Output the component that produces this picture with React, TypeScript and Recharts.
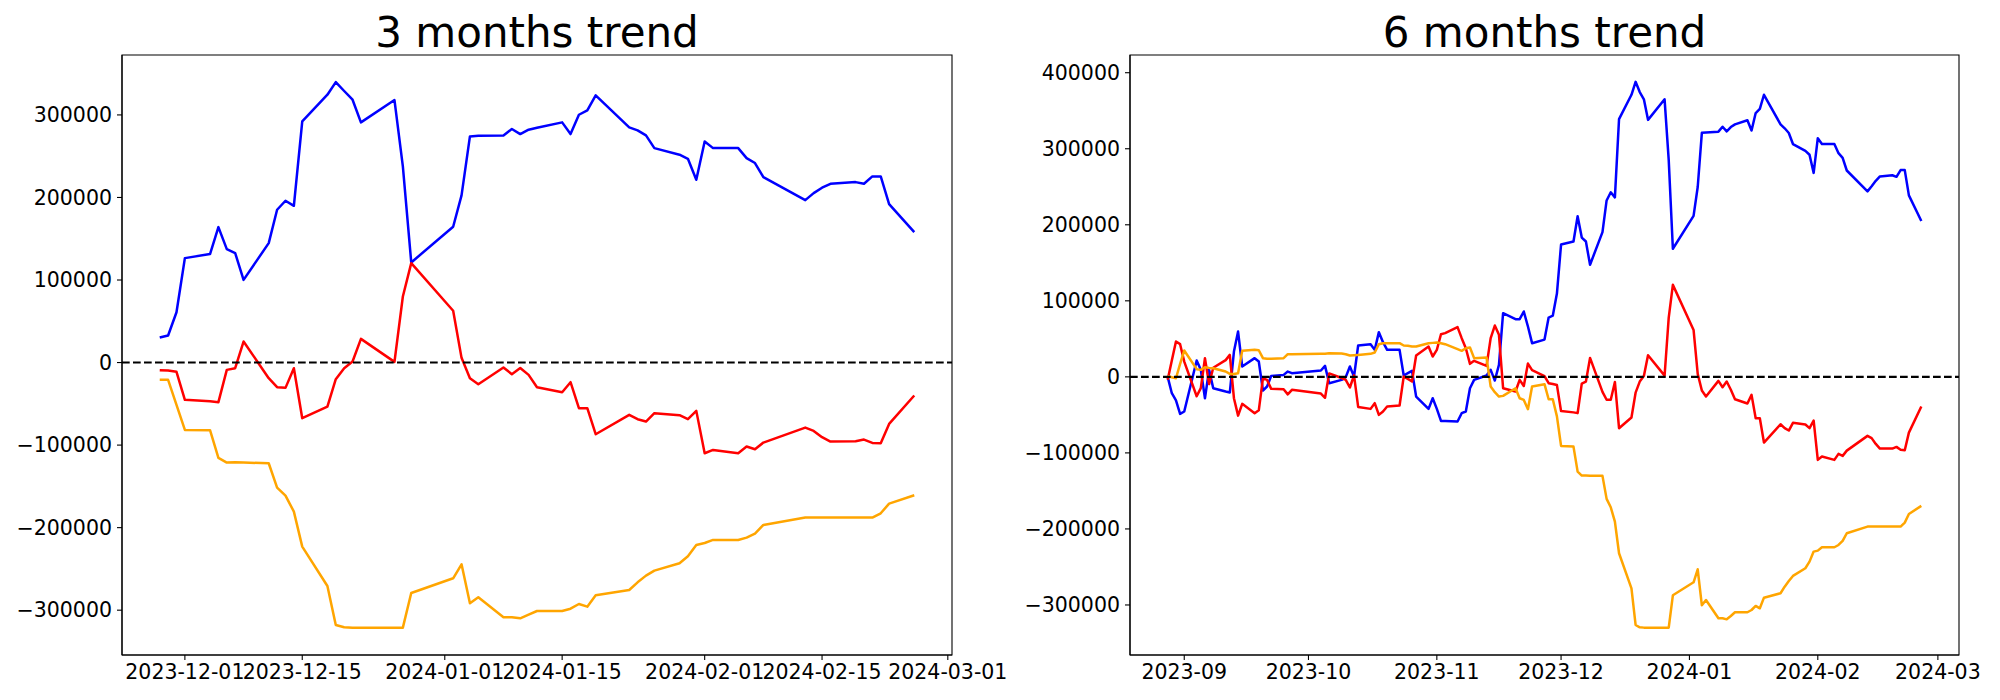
import { LineChart, Line, XAxis, YAxis, ReferenceLine, ReferenceArea } from "recharts";

// 3 months window (trading days)
const dates3 = [
  "2023-11-28", "2023-11-29", "2023-11-30", "2023-12-01", "2023-12-04", "2023-12-05", "2023-12-06",
  "2023-12-07", "2023-12-08", "2023-12-11", "2023-12-12", "2023-12-13", "2023-12-14", "2023-12-15",
  "2023-12-18", "2023-12-19", "2023-12-20", "2023-12-21", "2023-12-22", "2023-12-26", "2023-12-27",
  "2023-12-28", "2024-01-02", "2024-01-03", "2024-01-04", "2024-01-05", "2024-01-08", "2024-01-09",
  "2024-01-10", "2024-01-11", "2024-01-12", "2024-01-15", "2024-01-16", "2024-01-17", "2024-01-18",
  "2024-01-19", "2024-01-23", "2024-01-24", "2024-01-25", "2024-01-26", "2024-01-29", "2024-01-30",
  "2024-01-31", "2024-02-01", "2024-02-02", "2024-02-05", "2024-02-06", "2024-02-07", "2024-02-08",
  "2024-02-13", "2024-02-14", "2024-02-15", "2024-02-16", "2024-02-19", "2024-02-20", "2024-02-21",
  "2024-02-22", "2024-02-23", "2024-02-26",
];

const blue3 = [
  30300, 32800, 61000, 126500, 131400, 164100, 137400, 132600, 100200, 144700, 185100, 196000, 189900, 292200,
  324500, 339800, 329000, 318400, 291000, 318000, 237600, 121300, 164500, 202500, 274000, 274700, 275200, 282900,
  276800, 282100, 284500, 291000, 276800, 300200, 305500, 323700, 284900, 281300, 275200, 259800, 251800, 246900,
  221500, 267900, 259800, 259800, 247700, 241700, 224700, 196800, 205300, 211800, 216600, 218600, 216600, 225500,
  225500, 192000, 158000,
];

const red3 = [
  -9250, -9660, -11270, -45200, -46800, -48000, -8850, -6830, 25500, -18950, -29860, -30670, -6830, -67430,
  -53300, -20160, -6830, 1250, 28700, 800, 80000, 120400, 62700, 5700, -18950, -26200, -6020, -14100,
  -6500, -14970, -30000, -35920, -23800, -55300, -55300, -86830, -63400, -68650, -71480, -61370, -63800, -68650,
  -58550, -109860, -105820, -109860, -101780, -105010, -96930, -78750, -82790, -90460, -95720, -95310, -93300, -97330,
  -97740, -74300, -39960,
];

const orange3 = [
  -20970, -20970, -51270, -81580, -81980, -115500, -121170, -120770, -121170, -121980, -151480, -161170, -180570, -223000,
  -270670, -317940, -320770, -321170, -321170, -321170, -321170, -279150, -261370, -244400, -291670, -284400, -308640, -308640,
  -309850, -305400, -300970, -300970, -298200, -292500, -295720, -281980, -275520, -266220, -258150, -252090, -243200, -234710,
  -220970, -218550, -214910, -214910, -212090, -207240, -196730, -187840, -187840, -187840, -187840, -187840, -187840, -187840,
  -182590, -170870, -160770,
];

// 6 months window
const dates6 = [
  "2023-08-28", "2023-08-29", "2023-08-30", "2023-08-31", "2023-09-01", "2023-09-04", "2023-09-05",
  "2023-09-06", "2023-09-07", "2023-09-08", "2023-09-11", "2023-09-12", "2023-09-13", "2023-09-14",
  "2023-09-15", "2023-09-18", "2023-09-19", "2023-09-20", "2023-09-21", "2023-09-22", "2023-09-25",
  "2023-09-26", "2023-09-27", "2023-10-04", "2023-10-05", "2023-10-06", "2023-10-09", "2023-10-10",
  "2023-10-11", "2023-10-12", "2023-10-13", "2023-10-16", "2023-10-17", "2023-10-18", "2023-10-19",
  "2023-10-20", "2023-10-23", "2023-10-24", "2023-10-25", "2023-10-26", "2023-10-27", "2023-10-30",
  "2023-10-31", "2023-11-01", "2023-11-02", "2023-11-03", "2023-11-06", "2023-11-07", "2023-11-08",
  "2023-11-09", "2023-11-10", "2023-11-13", "2023-11-14", "2023-11-15", "2023-11-16", "2023-11-17",
  "2023-11-20", "2023-11-21", "2023-11-22", "2023-11-23", "2023-11-24", "2023-11-27",
  ...dates3,
];

const blue6 = [
  0, -21500, -31000, -48700, -45600, 21500, 9200, -28100, 9200, -14900, -19300, -20600, 33300, 59600,
  13600, 24600, 20200, -18000, -12700, 1300, 2600, 7000, 4800, 8300, 14500, -8300, -4000, -400,
  13600, 400, 41200, 43000, 35500, 58800, 45600, 35500, 35500, 1800, 4800, 7900, -25900, -42100,
  -28100, -42100, -57900, -57900, -58800, -47800, -45600, -14900, -3900, 1800, 9200, -4800, 15800, 83800,
  75900, 75900, 86000, 66200, 44300, 49000,
  78000, 80400, 109500, 174000, 178000, 211200, 183200, 178000, 147400, 190400, 232000, 242800, 236100, 339000,
  371000, 388000, 374600, 365000, 338000, 365000, 285000, 168500, 211700, 249700, 321000, 321500, 322500, 329000,
  322800, 328500, 332100, 337500, 324000, 347000, 352500, 371000, 332100, 326900, 320700, 306200, 297300, 292100,
  268300, 313900, 306200, 306200, 294200, 288000, 271400, 243900, 250600, 257900, 263600, 265200, 263100, 271900,
  271900, 238700, 205000,
];

const red6 = [
  -3900, 21500, 46500, 43000, 20000, -25500, -14900, 24600, -9500, 12000, 22000, 28900, -28100, -51000,
  -35500, -47800, -44000, -2000, -4000, -15800, -16200, -23000, -17000, -22000, -27500, 4500, -1500, -3900,
  -14000, 2000, -39500, -42100, -34600, -50000, -45600, -39000, -37700, 400, -2600, -6100, 28100, 39900,
  26800, 35500, 56100, 57500, 65400, 50900, 37700, 17100, 21100, 14500, 50900, 67500, 55300, -14900,
  -19300, -3900, -12000, 17500, 8800, 1000,
  -8300, -9500, -10800, -45000, -46700, -47700, -8800, -6200, 24900, -19700, -30100, -30100, -6700, -67500,
  -53400, -20800, -6200, 1000, 28500, 1600, 77800, 121000, 61700, 3900, -18000, -25900, -5300, -13600,
  -6100, -17000, -29400, -35100, -23700, -54400, -54400, -86400, -62300, -67400, -70600, -60500, -62700, -67500,
  -57500, -109200, -104800, -109200, -101300, -103900, -97000, -77600, -80600, -88200, -94300, -94300, -92100, -96000,
  -96500, -73300, -39000,
];

const orange6 = [
  1000, -500, -1800, 17000, 34600, 10100, 9200, 12700, 11800, 11400, 7000, 3900, 3900, 4800,
  34400, 35500, 35000, 24600, 23700, 23700, 24600, 29800, 29800, 30300, 30300, 31100, 30700, 29800,
  28100, 28500, 28900, 30300, 32000, 43000, 44300, 44300, 44300, 41200, 40800, 39900, 39900, 44300,
  44700, 45200, 44300, 43000, 36400, 34200, 37700, 38600, 24600, 25400, -12700, -20200, -25900, -25000,
  -14900, -28100, -30300, -42500, -12700, -9600,
  -29400, -29400, -52000, -90800, -91700, -124600, -129800, -129800, -130200, -130200, -160500, -171500, -190400, -232000,
  -278100, -326300, -329400, -329800, -329800, -329800, -329800, -287300, -270200, -253100, -300400, -293400, -317500, -317500,
  -318900, -314500, -309600, -309600, -306600, -301300, -304400, -290400, -284600, -275900, -268400, -261800, -251700, -243000,
  -229800, -228500, -224100, -224100, -221100, -215800, -205700, -196900, -196900, -196900, -196900, -196900, -196900, -196900,
  -191700, -180300, -169700,
];

const xTicks3 = ["2023-12-01", "2023-12-15", "2024-01-01", "2024-01-15", "2024-02-01", "2024-02-15", "2024-03-01"];
const xTicks6 = ["2023-09-01", "2023-10-01", "2023-11-01", "2023-12-01", "2024-01-01", "2024-02-01", "2024-03-01"];
const yTicks3 = [-300000, -200000, -100000, 0, 100000, 200000, 300000];
const yTicks6 = [-300000, -200000, -100000, 0, 100000, 200000, 300000, 400000];

const DAY = 86400000;
const toDay = (s: string) => Date.UTC(+s.slice(0, 4), +s.slice(5, 7) - 1, +s.slice(8, 10)) / DAY;
const fmtNum = (v: number) => (v < 0 ? "\u2212" + Math.abs(v) : String(v));

const FONT = "'DejaVu Sans', sans-serif";
const tickStyle = { fontSize: 20.5, fill: "#000", fontFamily: FONT };
const LW = 2.5;

type Props = {
  title: string;
  left: number;
  width: number;
  dates: string[];
  blue: number[];
  red: number[];
  orange: number[];
  xTicks: string[];
  xLabelLen: number;
  xDomain: [number, number];
  yTicks: number[];
  yDomain: [number, number];
  yWidth: number;
  rightMargin: number;
};

function TrendChart(p: Props) {
  const data = p.dates.map((d, i) => ({ t: toDay(d), blue: p.blue[i], red: p.red[i], orange: p.orange[i] }));
  const plotW = p.width - p.yWidth - p.rightMargin;
  return (
    <div style={{ position: "absolute", left: p.left, top: 0, width: p.width, height: 700 }}>
      <div
        style={{
          position: "absolute",
          left: p.yWidth,
          width: plotW,
          top: 12,
          textAlign: "center",
          fontFamily: FONT,
          fontSize: 42,
          lineHeight: 1,
          color: "#000",
        }}
      >
        {p.title}
      </div>
      <LineChart width={p.width} height={700} data={data} margin={{ top: 55, right: p.rightMargin, bottom: 0, left: 0 }}>
        <XAxis
          dataKey="t"
          type="number"
          domain={p.xDomain}
          allowDataOverflow
          ticks={p.xTicks.map(toDay)}
          tickFormatter={(v) => new Date(v * DAY).toISOString().slice(0, p.xLabelLen)}
          interval={0}
          height={45}
          tick={tickStyle}
          tickSize={5}
          tickMargin={4}
          stroke="#000"
          strokeWidth={1.1}
        />
        <YAxis
          type="number"
          domain={p.yDomain}
          allowDataOverflow
          ticks={p.yTicks}
          tickFormatter={fmtNum}
          interval={0}
          width={p.yWidth}
          tick={tickStyle}
          tickSize={5}
          tickMargin={5}
          stroke="#000"
          strokeWidth={1.1}
        />
        <Line type="linear" dataKey="blue" stroke="#0000ff" strokeWidth={LW} strokeLinejoin="round" dot={false} isAnimationActive={false} />
        <Line type="linear" dataKey="red" stroke="#ff0000" strokeWidth={LW} strokeLinejoin="round" dot={false} isAnimationActive={false} />
        <Line type="linear" dataKey="orange" stroke="#ffa500" strokeWidth={LW} strokeLinejoin="round" dot={false} isAnimationActive={false} />
        <ReferenceLine y={0} stroke="#000" strokeWidth={2.1} strokeDasharray="7.7 3.3" />
        <ReferenceArea
          x1={p.xDomain[0]}
          x2={p.xDomain[1]}
          y1={p.yDomain[0]}
          y2={p.yDomain[1]}
          fill="none"
          fillOpacity={0}
          stroke="#000"
          strokeWidth={1.1}
        />
      </LineChart>
    </div>
  );
}

export default function App() {
  const d3 = toDay("2023-12-01");
  const d6 = toDay("2023-09-01");
  return (
    <div style={{ position: "absolute", left: 0, top: 0, width: 2000, height: 700, background: "#fff" }}>
      <TrendChart
        title="6 months trend"
        left={1000}
        width={1000}
        dates={dates6}
        blue={blue6}
        red={red6}
        orange={orange6}
        xTicks={xTicks6}
        xLabelLen={7}
        xDomain={[d6 - 13.1, d6 + 187.1]}
        yTicks={yTicks6}
        yDomain={[-365800, 423300]}
        yWidth={130}
        rightMargin={41}
      />
      <TrendChart
        title="3 months trend"
        left={0}
        width={1030}
        dates={dates3}
        blue={blue3}
        red={red3}
        orange={orange3}
        xTicks={xTicks3}
        xLabelLen={10}
        xDomain={[d3 - 7.5, d3 + 91.5]}
        yTicks={yTicks3}
        yDomain={[-354300, 372600]}
        yWidth={122}
        rightMargin={78}
      />
    </div>
  );
}
